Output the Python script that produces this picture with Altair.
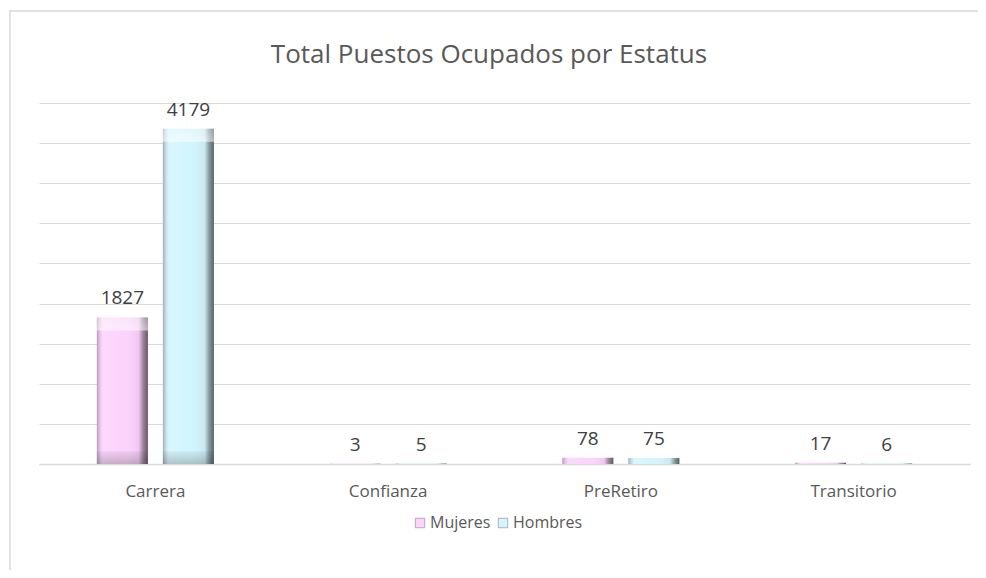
import altair as alt
import pandas as pd

categories = ["Carrera", "Confianza", "PreRetiro", "Transitorio"]
mujeres = [1827, 3, 78, 17]
hombres = [4179, 5, 75, 6]
series = ["Mujeres", "Hombres"]
colors = ["#fcd3fc", "#d3f5fd"]
title_text = "Total Puestos Ocupados por Estatus"

rows = []
for i, c in enumerate(categories):
    rows.append({"Estatus": c, "Serie": "Mujeres", "Valor": mujeres[i]})
    rows.append({"Estatus": c, "Serie": "Hombres", "Valor": hombres[i]})
df = pd.DataFrame(rows)

FONT = "Open Sans"
GRAY = "#595959"

x = alt.X("Estatus:N", sort=categories, title=None,
          scale=alt.Scale(paddingInner=0.497, paddingOuter=0.2485),
          axis=alt.Axis(labelAngle=0, labelFontSize=17, labelColor=GRAY, labelFont=FONT,
                        labelPadding=19, ticks=False, domainColor="#d9d9d9", domainWidth=1.5,
                        grid=False))
xo = alt.XOffset("Serie:N", sort=series,
                 scale=alt.Scale(paddingInner=0.227, paddingOuter=0))
y = alt.Y("Valor:Q", title=None,
          scale=alt.Scale(domain=[0, 4500], nice=False),
          axis=alt.Axis(values=list(range(0, 4501, 500)), labels=False, ticks=False,
                        domain=False, gridColor="#d9d9d9", gridWidth=1))

base = alt.Chart(df)
one = base.transform_filter(alt.datum.Estatus == "Carrera").transform_filter(alt.datum.Serie == "Mujeres")

border = one.mark_rect(fill=None, stroke="#d9d9d9", strokeWidth=1.5).encode(
    x=alt.value(-29), x2=alt.value(960), y=alt.value(-92), y2=alt.value(520)
)

title = one.mark_text(fontSize=26, font=FONT, color=GRAY, baseline="middle", align="center").encode(
    x=alt.value(450), y=alt.value(-48), text=alt.value(title_text)
)

bars = base.mark_bar().encode(
    x=x, xOffset=xo, y=y,
    color=alt.Color("Serie:N", sort=series,
                    scale=alt.Scale(domain=series, range=colors),
                    legend=alt.Legend(title=None, orient="none", direction="horizontal",
                                      legendX=373, legendY=412, symbolType="square",
                                      symbolSize=90, symbolStrokeColor="#7a6a7a",
                                      symbolStrokeWidth=0.5, labelFontSize=16,
                                      labelColor=GRAY, labelFont=FONT, labelOffset=2,
                                      columnPadding=4))
)

shade = base.mark_bar(
    color={"gradient": "linear", "x1": 0, "x2": 1, "y1": 0, "y2": 0,
           "stops": [{"offset": 0, "color": "rgba(60,40,60,0.35)"},
                     {"offset": 0.12, "color": "rgba(255,255,255,0.15)"},
                     {"offset": 0.5, "color": "rgba(255,255,255,0.0)"},
                     {"offset": 0.82, "color": "rgba(0,0,0,0.05)"},
                     {"offset": 0.9, "color": "rgba(0,0,0,0.35)"},
                     {"offset": 1, "color": "rgba(0,0,0,0.6)"}]}
).encode(x=x, xOffset=xo, y=y)

tall = base.transform_filter(alt.datum.Valor > 500)

topcap = tall.mark_bar(
    y2Offset=13,
    color={"gradient": "linear", "x1": 0, "x2": 0, "y1": 0, "y2": 1,
           "stops": [{"offset": 0, "color": "rgba(255,255,255,0.35)"},
                     {"offset": 1, "color": "rgba(255,255,255,0.55)"}]}
).encode(x=x, xOffset=xo, y=y, y2=alt.Y2("Valor:Q"))

bottomcap = tall.mark_bar(
    yOffset=-13,
    color={"gradient": "linear", "x1": 0, "x2": 0, "y1": 0, "y2": 1,
           "stops": [{"offset": 0, "color": "rgba(0,0,0,0.04)"},
                     {"offset": 1, "color": "rgba(0,0,0,0.2)"}]}
).encode(x=x, xOffset=xo, y=alt.Y(datum=0, scale=alt.Scale(domain=[0, 4500], nice=False)),
         y2=alt.Y2(datum=0))

labels = base.mark_text(baseline="bottom", dy=-9, fontSize=19, color="#404040", font=FONT).encode(
    x=x, xOffset=xo, y=y, text="Valor:Q"
)

chart = alt.layer(border, title, bars, shade, topcap, bottomcap, labels).properties(
    width=931, height=361,
    padding={"left": 31, "top": 95, "right": 8, "bottom": 106},
    autosize=alt.AutoSizeParams(type="none"),
    background="white"
).configure_view(stroke=None)

chart.save("out.html", embed_options={"renderer": "svg", "actions": False})
